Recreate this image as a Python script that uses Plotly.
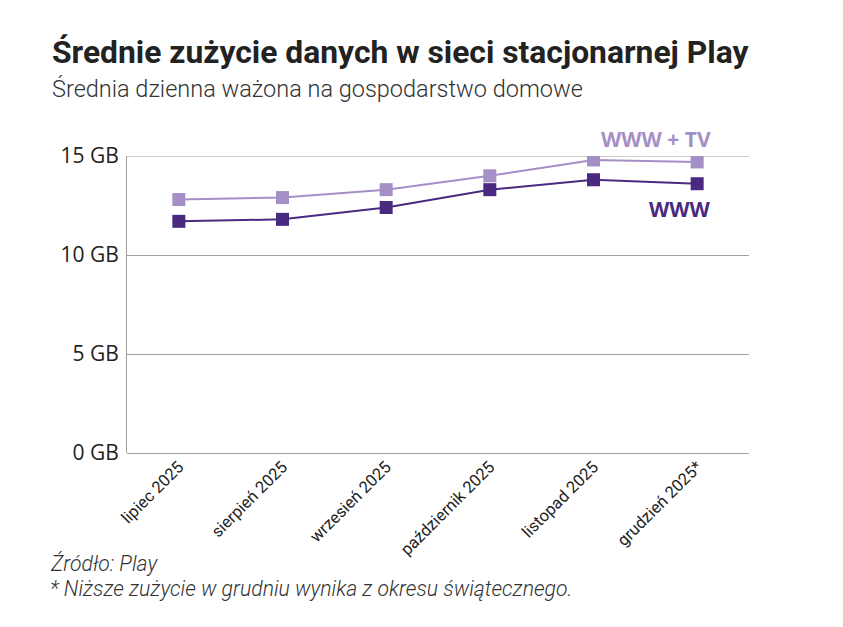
import plotly.graph_objects as go

categories = ["lipiec 2025", "sierpień 2025", "wrzesień 2025", "październik 2025", "listopad 2025", "grudzień 2025*"]
www_tv = [12.8, 12.9, 13.3, 14.0, 14.8, 14.7]
www = [11.7, 11.8, 12.4, 13.3, 13.8, 13.6]
y_ticks = [0, 5, 10, 15]
y_tick_text = ["0 GB", "5 GB", "10 GB", "15 GB"]

c_light = "#a48fc6"
c_dark = "#4a2a80"
grid_c = "#a0a0a0"

fig = go.Figure()
fig.add_trace(go.Scatter(x=categories, y=www_tv, mode="lines+markers", name="WWW + TV",
                         line=dict(color=c_light, width=2),
                         marker=dict(symbol="square", size=13, color=c_light)))
fig.add_trace(go.Scatter(x=categories, y=www, mode="lines+markers", name="WWW",
                         line=dict(color=c_dark, width=2),
                         marker=dict(symbol="square", size=13, color=c_dark)))

W, H = 843, 627
L, R, T, B = 127, 94, 156, 174

fig.update_layout(
    width=W, height=H,
    margin=dict(l=L, r=R, t=T, b=B),
    paper_bgcolor="white", plot_bgcolor="white",
    showlegend=False,
    font=dict(family="Roboto", color="#222"),
    xaxis=dict(type="category", tickangle=-45, tickfont=dict(family="Roboto", size=16.5, color="#222"),
               showgrid=False, showline=False, zeroline=False, ticks="", range=[-0.5, 5.5]),
    yaxis=dict(range=[0, 15], tickvals=y_ticks, ticktext=y_tick_text,
               tickfont=dict(family="Open Sans", size=21, color="#222"),
               showgrid=True, gridcolor=grid_c, gridwidth=1,
               showline=True, linecolor=grid_c, linewidth=1,
               zeroline=True, zerolinecolor=grid_c, zerolinewidth=1,
               ticks="", ticklen=0, ticklabelstandoff=3),
)

fig.add_shape(type="line", xref="paper", yref="y", x0=0, x1=1, y0=y_ticks[-1], y1=y_ticks[-1],
              line=dict(color=grid_c, width=1), layer="below")

ann = [
    dict(text="<b>Średnie zużycie danych w sieci stacjonarnej Play</b>", x=50, y=52,
         font=dict(size=31.8, family="Roboto", color="#222")),
    dict(text="Średnia dzienna ważona na gospodarstwo domowe", x=50, y=89,
         font=dict(size=23.5, family="Roboto", weight=300, color="#333")),
    dict(text="<i>Źródło: Play</i>", x=48, y=563,
         font=dict(size=21.2, family="Roboto", weight=300, color="#333")),
    dict(text="<i>* Niższe zużycie w grudniu wynika z okresu świątecznego.</i>", x=48, y=588,
         font=dict(size=21.2, family="Roboto", weight=300, color="#333")),
]
for a in ann:
    fig.add_annotation(xref="paper", yref="paper", xanchor="left", yanchor="middle",
                       showarrow=False, text=a["text"], font=a["font"],
                       x=(a["x"] - L) / (W - L - R), y=((H - a["y"]) - B) / (H - T - B))

fig.add_annotation(x=categories[-1], y=www_tv[-1], text="<b>WWW + TV</b>", showarrow=False,
                   xanchor="right", yanchor="middle", xshift=16, yshift=23,
                   font=dict(size=21, family="Open Sans", color=c_light))
fig.add_annotation(x=categories[-1], y=www[-1], text="<b>WWW</b>", showarrow=False,
                   xanchor="right", yanchor="middle", xshift=16, yshift=-25,
                   font=dict(size=21, family="Open Sans", color=c_dark))

fig.write_html("out.html")
